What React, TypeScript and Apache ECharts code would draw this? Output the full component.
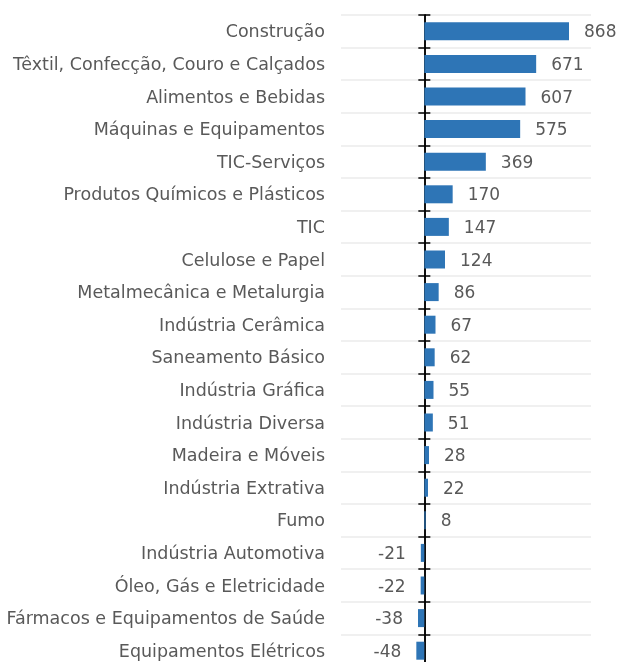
import React, { useEffect, useRef } from "react";
import * as echarts from "echarts";

const categories = [
  "Construção",
  "Têxtil, Confecção, Couro e Calçados",
  "Alimentos e Bebidas",
  "Máquinas e Equipamentos",
  "TIC-Serviços",
  "Produtos Químicos e Plásticos",
  "TIC",
  "Celulose e Papel",
  "Metalmecânica e Metalurgia",
  "Indústria Cerâmica",
  "Saneamento Básico",
  "Indústria Gráfica",
  "Indústria Diversa",
  "Madeira e Móveis",
  "Indústria Extrativa",
  "Fumo",
  "Indústria Automotiva",
  "Óleo, Gás e Eletricidade",
  "Fármacos e Equipamentos de Saúde",
  "Equipamentos Elétricos",
];

const values = [868, 671, 607, 575, 369, 170, 147, 124, 86, 67, 62, 55, 51, 28, 22, 8, -21, -22, -38, -48];

const FONT = "DejaVu Sans";
const TEXT = "#595959";
const BAR = "#2E75B6";

export default function App() {
  const ref = useRef<HTMLDivElement>(null);
  useEffect(() => {
    if (!ref.current) return;
    const chart = echarts.init(ref.current, undefined, { renderer: "svg" });
    const tickAxis = (inside: boolean) => ({
      type: "category",
      data: categories,
      inverse: true,
      position: "left",
      axisLine: { show: true, onZero: true, onZeroAxisIndex: 0, lineStyle: { color: "#000", width: 1.5 } },
      axisTick: { show: true, inside, length: 6, lineStyle: { color: "#000", width: 1.5 } },
      axisLabel: { show: false },
      splitLine: { show: false },
    });
    chart.setOption({
      animation: false,
      grid: { left: 341, right: 26, top: 15, bottom: 5, containLabel: false },
      xAxis: { type: "value", min: -500, max: 1000, show: false },
      yAxis: [
        {
          type: "category",
          data: categories,
          inverse: true,
          position: "left",
          axisLine: { show: false, onZero: false },
          axisTick: { show: false },
          axisLabel: { margin: 16, color: TEXT, fontSize: 17.5, fontFamily: FONT },
          splitLine: { show: true, lineStyle: { color: "#F0F0F0", width: 2 } },
        },
        tickAxis(false),
        tickAxis(true),
      ],
      series: [
        {
          type: "bar",
          yAxisIndex: 0,
          barWidth: 18,
          data: values.map((v) => ({
            value: v,
            label: { position: v < 0 ? "left" : "right" },
          })),
          itemStyle: { color: BAR },
          label: {
            show: true,
            distance: 15,
            color: TEXT,
            fontSize: 17,
            fontFamily: FONT,
          },
        },
      ],
    });
    return () => chart.dispose();
  }, []);
  return (
    <div
      ref={ref}
      style={{ position: "fixed", left: 0, top: 0, width: 617, height: 672 }}
    />
  );
}
